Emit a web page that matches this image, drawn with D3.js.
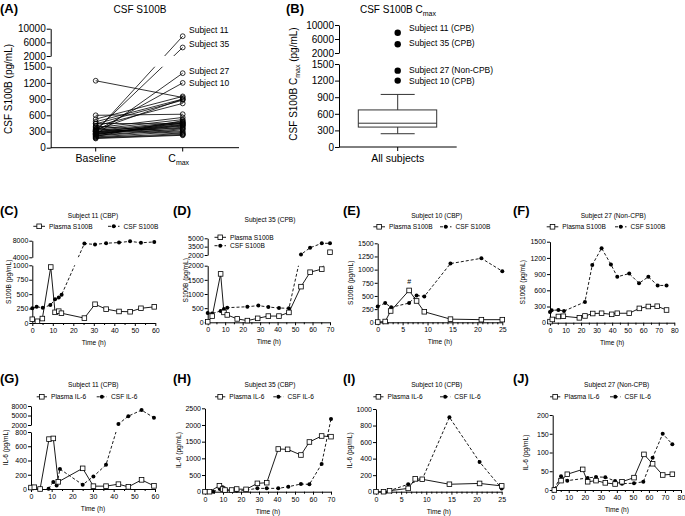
<!DOCTYPE html>
<html><head><meta charset="utf-8">
<script src="https://cdn.jsdelivr.net/npm/d3@7"></script>
<style>body{margin:0;background:#fff}</style>
</head><body><svg id="c" width="685" height="516" xmlns="http://www.w3.org/2000/svg"></svg>
<script>
// ---------------- DATA ----------------
// Panel A: CSF S100B baseline vs Cmax (pg/mL), one entry per subject
const groupsA = ["Baseline", "Cmax"];
const baselineA = [300, 320, 240, 310, 1240, 600, 530, 480, 440, 400, 370, 340, 320, 300, 290, 280, 270, 260, 250, 240, 230, 220, 210, 200, 190, 180, 170, 350, 400, 450, 300, 260, 330];
const cmaxA     = [7800, 4500, 1380, 1200, 930, 620, 950, 900, 880, 820, 560, 520, 480, 450, 470, 430, 420, 400, 380, 460, 350, 330, 500, 300, 260, 240, 230, 250, 280, 440, 360, 410, 900];
const labelsA = ["Subject 11", "Subject 35", "Subject 27", "Subject 10"];
const labelValuesA = [7800, 4500, 1380, 1200];
const yTicksLowA = [0, 300, 600, 900, 1200, 1500];
const yTicksHighA = [2000, 6000, 10000];

// Panel B: box of Cmax (min, q1, median, q3, max) and outliers
const boxB = [240, 360, 430, 670, 950];
const outliersB = [7800, 4500, 1380, 1200];
const outlierLabelsB = ["Subject 11 (CPB)", "Subject 35 (CPB)", "Subject 27 (Non-CPB)", "Subject 10 (CPB)"];

// Time courses [time (h), value]
const c_plasma = [[0,65],[2.5,30],[4.9,77],[9,970],[11.1,185],[12.9,205],[14.2,170],[25.4,85],[30.6,325],[36,240],[42.3,200],[47.7,195],[53,255],[59.5,280]];
const c_csf    = [[0,255],[2.1,280],[5.1,265],[8.8,310],[11.1,410],[12.9,440],[14.3,490],[25.4,7300],[30.6,7100],[36,7400],[42.3,7550],[47.7,7850],[53,7500],[59.5,7700]];

const d_plasma = [[0,20],[2.6,220],[7.4,1710],[9.3,350],[11.2,260],[16.9,120],[22.7,60],[28.6,140],[34.7,220],[40.8,220],[46.5,350],[53.4,1260],[58.6,1770],[65.3,1880],[70,2500]];
const d_csf    = [[0,330],[2.5,310],[7.4,400],[9.3,470],[11.2,516],[22.7,550],[29,590],[34.7,540],[40.8,505],[46.5,495],[53.4,2100],[58.6,3300],[65.3,4100],[70,4100]];

const e_plasma = [[0,5],[1.5,15],[2.6,215],[6.3,605],[7.8,405],[9.35,200],[14.6,60],[20.8,50],[25,50]];
const e_csf    = [[0,300],[1.5,365],[2.7,285],[6.3,365],[7.8,510],[9.35,490],[14.6,1115],[20.8,1215],[25,970]];

const f_plasma = [[0,20],[1.5,60],[5.4,115],[8.6,120],[18.9,90],[22.5,125],[27.5,170],[33.2,175],[39.7,155],[43.3,175],[51,175],[57.5,265],[63.3,300],[69,305],[75,235]];
const f_csf    = [[0,200],[1.1,230],[5.4,235],[9,215],[22.5,385],[27.2,1070],[33.2,1380],[39.2,1080],[43.3,850],[51,910],[57.3,730],[63.3,850],[69.3,690],[75,690]];

const g_plasma = [[0,20],[1.6,25],[4.4,0],[8.7,700],[10.8,710],[13.2,100],[25,290],[30.2,40],[36.3,40],[42.3,68],[47.1,30],[53.5,128],[59.5,44]];
const g_csf    = [[8.5,5],[10.8,100],[12.4,50],[14,280],[25,60],[30.2,175],[36.3,340],[42.3,2300],[47.1,4800],[53.5,6700],[59.5,4300]];

const h_plasma = [[0,0],[2.5,0],[8,180],[9.8,80],[11.1,50],[14.8,50],[17.6,80],[22.8,70],[29.1,250],[34.3,270],[40.7,1280],[45.9,1270],[53.3,1100],[58,1490],[64.8,1670],[70,1650]];
const h_csf    = [[4.6,0],[8.3,80],[9.8,130],[11.7,50],[17.6,30],[23.1,50],[29.1,100],[34.3,100],[40.7,100],[46.3,150],[53.3,230],[58,220],[64.8,830],[70,2180]];

const i_plasma = [[0,0],[1.5,0],[2.7,12],[6.4,40],[7.8,155],[9.2,150],[14.6,90],[20.6,100],[25,70]];
const i_csf    = [[1.5,0],[2.7,12],[6.4,90],[9.2,150],[14.6,900],[20.6,360],[25,40]];

const j_plasma = [[1,0],[5.2,25],[9.1,42],[18.7,55],[21.8,22],[27,25],[32.8,19],[38.9,16],[43.2,22],[50.7,33],[56.9,95],[62.3,70],[68.6,40],[74.6,42]];
const j_csf    = [[1,3],[5.2,37],[9.1,25],[21.8,32],[27,35],[32.8,34],[38.9,24],[43.2,17],[50.7,18],[56.5,22],[62.3,86],[68.6,150],[74.6,122]];

// ---------------- DRAWING ----------------
const FONT = '"Liberation Sans", Arial, Helvetica, sans-serif';
const svg = d3.select("#c");
let clipId = 0;

function txt(g, x, y, s, size, anchor, bold) {
  const t = g.append("text").attr("x", x).attr("y", y).attr("font-size", size)
    .attr("font-family", FONT).attr("fill", "#000").text(s);
  if (anchor) t.attr("text-anchor", anchor);
  if (bold) t.attr("font-weight", "bold");
  return t;
}
function makeY(segs) {
  const sc = segs.map(s => d3.scaleLinear().domain(s.d).range(s.r));
  return v => {
    for (let i = 0; i < segs.length - 1; i++) if (v <= segs[i].d[1]) return sc[i](v);
    return sc[segs.length - 1](v);
  };
}
function yAxes(g, x0, segs, tickLen, pad, fs) {
  segs.forEach(s => {
    const sc = d3.scaleLinear().domain(s.d).range(s.r);
    const a = g.append("g").attr("transform", `translate(${x0},0)`)
      .call(d3.axisLeft(sc).tickValues(s.ticks).tickSize(tickLen).tickSizeOuter(0).tickPadding(pad).tickFormat(d3.format("d")));
    a.attr("font-family", FONT).attr("font-size", fs);
    a.selectAll("path,line").attr("stroke", "#000").attr("stroke-width", 1);
  });
}
function addClip(segs, x0, x1) {
  const id = "clip" + (clipId++);
  const cp = svg.append("clipPath").attr("id", id);
  segs.forEach((s, i) => {
    let top = Math.min(s.r[0], s.r[1]), bot = Math.max(s.r[0], s.r[1]);
    if (i === 0) bot += 5;
    if (i === segs.length - 1) top -= 5;
    cp.append("rect").attr("x", x0).attr("y", top).attr("width", x1 - x0).attr("height", bot - top);
  });
  return id;
}
function square(g, x, y, s) {
  g.append("rect").attr("x", x - s / 2).attr("y", y - s / 2).attr("width", s).attr("height", s)
    .attr("fill", "#fff").attr("stroke", "#000").attr("stroke-width", 0.8);
}
function dot(g, x, y, r) {
  g.append("circle").attr("cx", x).attr("cy", y).attr("r", r).attr("fill", "#000");
}

// ----- Panel A -----
(function () {
  const g = svg.append("g");
  const segs = [{ d: [0, 1500], r: [147.7, 66.7], ticks: yTicksLowA }, { d: [2000, 10000], r: [56, 28.7], ticks: yTicksHighA }];
  const y = makeY(segs);
  const x = d3.scalePoint().domain(groupsA).range([95.7, 182.7]);
  txt(g, 0, 13, "(A)", 13, null, true);
  txt(g, 140, 13, "CSF S100B", 10, "middle");
  yAxes(g, 50.7, segs, 4, 1, 10);
  g.append("line").attr("x1", 50.7).attr("x2", 239).attr("y1", 147.7).attr("y2", 147.7).attr("stroke", "#000");
  groupsA.forEach(k => g.append("line").attr("x1", x(k)).attr("x2", x(k)).attr("y1", 147.7).attr("y2", 151.5).attr("stroke", "#000"));
  txt(g, x("Baseline"), 162, "Baseline", 10.5, "middle");
  const cm = txt(g, x("Cmax") - 4, 162, "C", 10.5, "middle");
  cm.append("tspan").attr("font-size", 7).attr("dy", 3).text("max");
  txt(g, 12, 89, "CSF S100B  (pg/mL)", 10, "middle").attr("transform", "rotate(-90,12,89)");
  const cid = addClip(segs, 40, 245);
  const lg = g.append("g").attr("clip-path", `url(#${cid})`);
  baselineA.forEach((b, i) => {
    lg.append("line").attr("x1", x("Baseline")).attr("y1", y(b)).attr("x2", x("Cmax")).attr("y2", y(cmaxA[i]))
      .attr("stroke", "#000").attr("stroke-width", 0.8);
  });
  baselineA.forEach((b, i) => {
    g.append("circle").attr("cx", x("Baseline")).attr("cy", y(b)).attr("r", 2.4).attr("fill", "none").attr("stroke", "#000").attr("stroke-width", 0.8);
    g.append("circle").attr("cx", x("Cmax")).attr("cy", y(cmaxA[i])).attr("r", 2.4).attr("fill", "none").attr("stroke", "#000").attr("stroke-width", 0.8);
  });
  const dy = [-6, -3.5, -2.5, 0];
  labelsA.forEach((l, i) => txt(g, 189, y(labelValuesA[i]) + dy[i] + 3, l, 8.5));
})();

// ----- Panel B -----
(function () {
  const g = svg.append("g");
  const segs = [{ d: [0, 1500], r: [147, 64], ticks: yTicksLowA }, { d: [2000, 10000], r: [53, 25], ticks: yTicksHighA }];
  const y = makeY(segs);
  const xc = 397.7;
  txt(g, 286, 13, "(B)", 13, null, true);
  const t = txt(g, 398, 13, "CSF S100B C", 10, "middle");
  t.append("tspan").attr("font-size", 7).attr("dy", 3).text("max");
  yAxes(g, 339, segs, 4, 1, 10);
  g.append("line").attr("x1", 339).attr("x2", 456.7).attr("y1", 147).attr("y2", 147).attr("stroke", "#000");
  g.append("line").attr("x1", xc).attr("x2", xc).attr("y1", 147).attr("y2", 151).attr("stroke", "#000");
  txt(g, xc, 162, "All subjects", 10.5, "middle");
  const yl = txt(g, 297, 84, "CSF S100B C", 10, "middle").attr("transform", "rotate(-90,297,84)");
  yl.append("tspan").attr("font-size", 7).attr("dy", 3).text("max");
  yl.append("tspan").attr("dy", -3).text(" (pg/mL)");
  const [mn, q1, md, q3, mx] = boxB;
  const st = "#333";
  g.append("line").attr("x1", xc).attr("x2", xc).attr("y1", y(q3)).attr("y2", y(mx)).attr("stroke", st);
  g.append("line").attr("x1", xc).attr("x2", xc).attr("y1", y(q1)).attr("y2", y(mn)).attr("stroke", st);
  g.append("line").attr("x1", xc - 17).attr("x2", xc + 17).attr("y1", y(mx)).attr("y2", y(mx)).attr("stroke", st);
  g.append("line").attr("x1", xc - 17).attr("x2", xc + 17).attr("y1", y(mn)).attr("y2", y(mn)).attr("stroke", st);
  g.append("rect").attr("x", 358.3).attr("width", 78.4).attr("y", y(q3)).attr("height", y(q1) - y(q3))
    .attr("fill", "none").attr("stroke", st);
  g.append("line").attr("x1", 358.3).attr("x2", 436.7).attr("y1", y(md)).attr("y2", y(md)).attr("stroke", st);
  const dy = [-4.5, -1, -1, 0];
  outliersB.forEach((v, i) => {
    dot(g, xc, y(v), 3.2);
    txt(g, 409, y(v) + dy[i] + 3, outlierLabelsB[i], 8.5);
  });
})();

// ----- Time-course panels -----
function timePanel(cfg) {
  const g = svg.append("g");
  const x = d3.scaleLinear().domain(cfg.xd).range(cfg.xr);
  const y = makeY(cfg.segs);
  const yb = cfg.segs[0].r[0];
  txt(g, cfg.lx, cfg.ly, cfg.letter, 13, null, true);
  txt(g, cfg.tx, cfg.ty, cfg.title, 6.6, "middle");
  yAxes(g, cfg.xr[0], cfg.segs, 3, 1, 7);
  const xa = g.append("g").attr("transform", `translate(0,${yb})`)
    .call(d3.axisBottom(x).tickValues(cfg.xt).tickSize(3).tickSizeOuter(0).tickPadding(2));
  xa.attr("font-family", FONT).attr("font-size", 7);
  xa.selectAll("path,line").attr("stroke", "#000");
  const xm = g.append("g").attr("transform", `translate(0,${yb})`)
    .call(d3.axisBottom(x).tickValues(cfg.xm).tickSize(2).tickSizeOuter(0).tickFormat(""));
  xm.select(".domain").remove();
  xm.selectAll("line").attr("stroke", "#000");
  const xmid = (cfg.xr[0] + cfg.xr[1]) / 2;
  txt(g, xmid, yb + 22, "Time (h)", 6.6, "middle");
  const ymid = (cfg.segs[0].r[0] + cfg.segs[cfg.segs.length - 1].r[1]) / 2;
  txt(g, cfg.ylx, ymid, cfg.ylabel, 6.6, "middle").attr("transform", `rotate(-90,${cfg.ylx},${ymid})`);
  const cid = addClip(cfg.segs, cfg.xr[0] - 5, cfg.xr[1] + 5);
  const lg = g.append("g").attr("clip-path", `url(#${cid})`);
  const line = d3.line().x(d => x(d[0])).y(d => y(d[1]));
  lg.append("path").attr("d", line(cfg.plasma)).attr("fill", "none").attr("stroke", "#000").attr("stroke-width", 0.9);
  lg.append("path").attr("d", line(cfg.csf)).attr("fill", "none").attr("stroke", "#000").attr("stroke-width", 0.9).attr("stroke-dasharray", "3,2");
  cfg.csf.forEach(d => dot(g, x(d[0]), y(d[1]), 2));
  cfg.plasma.forEach(d => square(g, x(d[0]), y(d[1]), 4.6));
  // legend
  cfg.legend.forEach((L, i) => {
    const gy = L.y;
    const ln = g.append("line").attr("x1", L.x0).attr("x2", L.x1).attr("y1", gy).attr("y2", gy).attr("stroke", "#000").attr("stroke-width", 0.9);
    const mx = (L.x0 + L.x1) / 2;
    if (i === 0) square(g, mx, gy, 4.6);
    else { ln.attr("stroke-dasharray", "3,2"); dot(g, mx, gy, 2); }
    txt(g, L.x1 + 4, gy + 2.3, L.text, 6.6);
  });
  if (cfg.extra) cfg.extra(g, x, y);
}

const S100B = "S100B (pg/mL)", IL6 = "IL-6 (pg/mL)";
timePanel({ letter: "(C)", lx: 0, ly: 214.7, title: "Subject 11 (CBP)", tx: 93, ty: 218,
  xd: [0, 60], xr: [32.3, 155.3], xt: d3.range(0, 61, 10), xm: d3.range(5, 60, 10),
  segs: [{ d: [0, 1000], r: [323, 265.3], ticks: [0, 250, 500, 750, 1000] }, { d: [4000, 8000], r: [257.3, 240.7], ticks: [4000, 8000] }],
  ylabel: S100B, ylx: 11, plasma: c_plasma, csf: c_csf,
  legend: [{ x0: 33.3, x1: 45, y: 226.3, text: "Plasma S100B" }, { x0: 108, x1: 119.5, y: 226.3, text: "CSF S100B" }] });

timePanel({ letter: "(D)", lx: 173, ly: 214.7, title: "Subject 35 (CPB)", tx: 270, ty: 221.6,
  xd: [0, 70], xr: [207.7, 330], xt: d3.range(0, 71, 10), xm: d3.range(5, 70, 10),
  segs: [{ d: [0, 2000], r: [322.3, 265.7], ticks: [0, 500, 1000, 1500, 2000] }, { d: [2000, 5000], r: [255, 238.3], ticks: [2000, 3500, 5000] }],
  ylabel: S100B, ylx: 188, plasma: d_plasma, csf: d_csf,
  legend: [{ x0: 214.5, x1: 226, y: 237.3, text: "Plasma S100B" }, { x0: 214.5, x1: 226, y: 245.7, text: "CSF S100B" }] });

timePanel({ letter: "(E)", lx: 343, ly: 214.7, title: "Subject 10 (CBP)", tx: 436.7, ty: 218,
  xd: [0, 25], xr: [377.7, 502.3], xt: d3.range(0, 26, 5), xm: d3.range(1, 25, 1).filter(v => v % 5),
  segs: [{ d: [0, 1500], r: [322.3, 243.3], ticks: [0, 250, 500, 750, 1000, 1250, 1500] }],
  ylabel: S100B, ylx: 353, plasma: e_plasma, csf: e_csf,
  legend: [{ x0: 373.3, x1: 385, y: 226.8, text: "Plasma S100B" }, { x0: 440, x1: 451.5, y: 226.8, text: "CSF S100B" }],
  extra: (g, x, y) => txt(g, x(e_plasma[3][0]), y(e_plasma[3][1]) - 6, "#", 7, "middle") });

timePanel({ letter: "(F)", lx: 513, ly: 214.7, title: "Subject 27 (Non-CPB)", tx: 613.3, ty: 218,
  xd: [0, 80], xr: [550, 674.3], xt: d3.range(0, 81, 10), xm: d3.range(5, 80, 10),
  segs: [{ d: [0, 1500], r: [322.7, 241.7], ticks: [0, 300, 600, 900, 1200, 1500] }],
  ylabel: S100B, ylx: 525, plasma: f_plasma, csf: f_csf,
  legend: [{ x0: 546.7, x1: 558.3, y: 226.8, text: "Plasma S100B" }, { x0: 615, x1: 626.5, y: 226.8, text: "CSF S100B" }] });

timePanel({ letter: "(G)", lx: 0, ly: 382.7, title: "Subject 11 (CPB)", tx: 93.3, ty: 387.3,
  xd: [0, 60], xr: [31, 155], xt: d3.range(0, 61, 10), xm: d3.range(5, 60, 10),
  segs: [{ d: [0, 800], r: [489, 432], ticks: [0, 200, 400, 600, 800] }, { d: [2000, 8000], r: [425, 406], ticks: [2000, 5000, 8000] }],
  ylabel: IL6, ylx: 7.5, plasma: g_plasma, csf: g_csf,
  legend: [{ x0: 36.7, x1: 47, y: 396.8, text: "Plasma IL-6" }, { x0: 96.7, x1: 107, y: 396.8, text: "CSF IL-6" }] });

timePanel({ letter: "(H)", lx: 173, ly: 382.7, title: "Subject 35 (CBP)", tx: 270, ty: 387.3,
  xd: [0, 70], xr: [205, 331], xt: d3.range(0, 71, 10), xm: d3.range(5, 70, 10),
  segs: [{ d: [0, 2500], r: [491.7, 408.3], ticks: [0, 500, 1000, 1500, 2000, 2500] }],
  ylabel: IL6, ylx: 180.5, plasma: h_plasma, csf: h_csf,
  legend: [{ x0: 215, x1: 225.3, y: 396.8, text: "Plasma IL-6" }, { x0: 273.3, x1: 283.5, y: 396.8, text: "CSF IL-6" }] });

timePanel({ letter: "(I)", lx: 343, ly: 382.7, title: "Subject 10 (CPB)", tx: 436.7, ty: 387.3,
  xd: [0, 25], xr: [376, 501.7], xt: d3.range(0, 26, 5), xm: d3.range(1, 25, 1).filter(v => v % 5),
  segs: [{ d: [0, 1000], r: [491.7, 409], ticks: [0, 200, 400, 600, 800, 1000] }],
  ylabel: IL6, ylx: 352.5, plasma: i_plasma, csf: i_csf,
  legend: [{ x0: 373.3, x1: 383.5, y: 396.8, text: "Plasma IL-6" }, { x0: 440, x1: 450.3, y: 396.8, text: "CSF IL-6" }] });

timePanel({ letter: "(J)", lx: 513, ly: 382.7, title: "Subject 27 (Non-CPB)", tx: 616.7, ty: 387.3,
  xd: [0, 80], xr: [552.7, 681], xt: d3.range(0, 81, 10), xm: d3.range(5, 80, 10),
  segs: [{ d: [0, 200], r: [490, 415], ticks: [0, 50, 100, 150, 200] }],
  ylabel: IL6, ylx: 527.5, plasma: j_plasma, csf: j_csf,
  legend: [{ x0: 550, x1: 560.3, y: 396.8, text: "Plasma IL-6" }, { x0: 610, x1: 620.5, y: 396.8, text: "CSF IL-6" }] });
</script>
</body></html>
